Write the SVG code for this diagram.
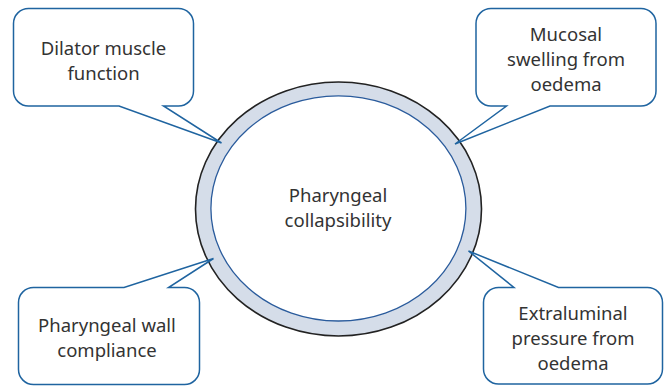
<svg xmlns="http://www.w3.org/2000/svg" width="670" height="386" viewBox="0 0 670 386">
<style>
.call{fill:#fff;stroke:#1f64a0;stroke-width:1.5;stroke-linejoin:miter}
.t{font-family:"Noto Sans","Liberation Sans",sans-serif;font-size:18.5px;fill:#333;text-anchor:middle}
</style>
<rect width="670" height="386" fill="#fff"/>
<g id="center">
<ellipse cx="338.5" cy="209" rx="143" ry="127" fill="#d5dde9" stroke="#222" stroke-width="1.6"/>
<ellipse cx="338.4" cy="208.4" rx="127.5" ry="112.6" fill="#fff" stroke="#2a5b9c" stroke-width="1.3"/>
<text class="t" x="338" y="201.5">Pharyngeal</text>
<text class="t" x="338" y="226.5">collapsibility</text>
</g>
<g id="dilator">
<path class="call" d="M28.5,8.5 H178.5 A15,15 0 0 1 193.5,23.5 V91 A15,15 0 0 1 178.5,106 H163.5 L221.5,143 L119,106 H28.5 A15,15 0 0 1 13.5,91 V23.5 A15,15 0 0 1 28.5,8.5 Z"/>
<text class="t" x="103.5" y="55">Dilator muscle</text>
<text class="t" x="103.5" y="79.5">function</text>
</g>
<g id="mucosal">
<path class="call" d="M491,8.5 H641 A15,15 0 0 1 656,23.5 V91 A15,15 0 0 1 641,106 H550 L455,144 L506.5,106 H491 A15,15 0 0 1 476,91 V23.5 A15,15 0 0 1 491,8.5 Z"/>
<text class="t" x="566" y="40.5">Mucosal</text>
<text class="t" x="566" y="66">swelling from</text>
<text class="t" x="566" y="91">oedema</text>
</g>
<g id="wall">
<path class="call" d="M33.5,287.5 H124 L213.5,258.5 L168.5,287.5 H184.5 A15,15 0 0 1 199.5,302.5 V369.5 A15,15 0 0 1 184.5,384.5 H33.5 A15,15 0 0 1 18.5,369.5 V302.5 A15,15 0 0 1 33.5,287.5 Z"/>
<text class="t" x="107" y="331.5">Pharyngeal wall</text>
<text class="t" x="107" y="356.5">compliance</text>
</g>
<g id="extraluminal">
<path class="call" d="M498.5,287.5 H514 L468.5,251 L558.5,287.5 H647.5 A15,15 0 0 1 662.5,302.5 V369 A15,15 0 0 1 647.5,384 H498.5 A15,15 0 0 1 483.5,369 V302.5 A15,15 0 0 1 498.5,287.5 Z"/>
<text class="t" x="573" y="320">Extraluminal</text>
<text class="t" x="573" y="345">pressure from</text>
<text class="t" x="573" y="370">oedema</text>
</g>
</svg>
